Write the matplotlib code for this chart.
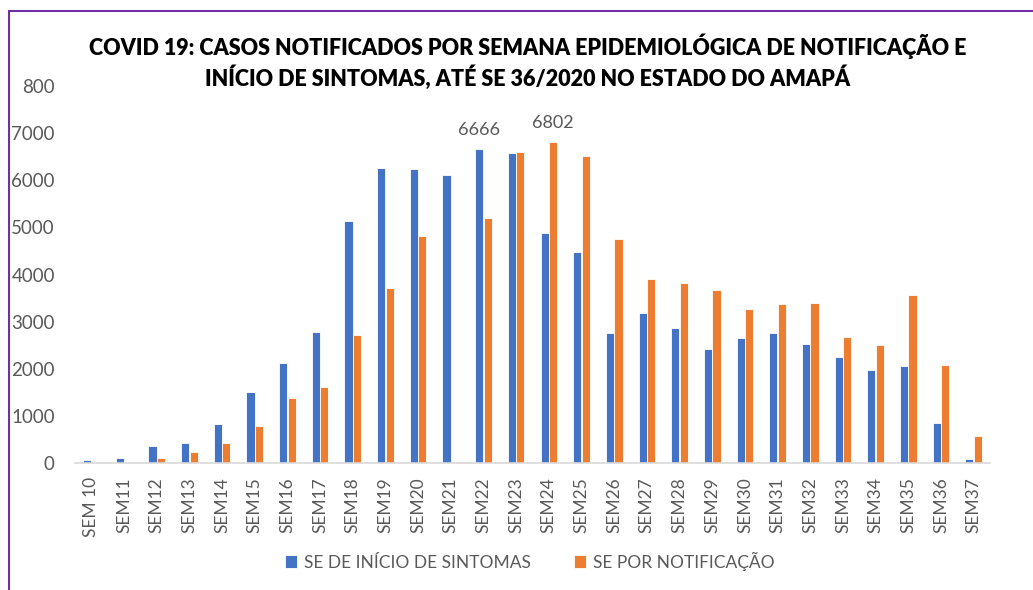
import matplotlib
matplotlib.use("Agg")
import matplotlib.pyplot as plt
import numpy as np
from matplotlib.patches import Rectangle

plt.rcParams['font.family'] = ['Lato', 'DejaVu Sans']

categories = ["SEM 10", "SEM11", "SEM12", "SEM13", "SEM14", "SEM15", "SEM16", "SEM17",
              "SEM18", "SEM19", "SEM20", "SEM21", "SEM22", "SEM23", "SEM24", "SEM25",
              "SEM26", "SEM27", "SEM28", "SEM29", "SEM30", "SEM31", "SEM32", "SEM33",
              "SEM34", "SEM35", "SEM36", "SEM37"]
inicio_sintomas = [70, 113, 361, 432, 820, 1501, 2122, 2781,
                   5134, 6258, 6243, 6109, 6666, 6576, 4879, 4469,
                   2751, 3175, 2870, 2418, 2652, 2765, 2531, 2255,
                   1966, 2051, 842, 85]
notificacao = [5, 10, 106, 240, 424, 785, 1372, 1619,
               2708, 3712, 4815, 0, 5204, 6597, 6802, 6506,
               4752, 3897, 3811, 3670, 3267, 3373, 3394, 2680,
               2496, 3557, 2079, 566]
y_ticks = [0, 1000, 2000, 3000, 4000, 5000, 6000, 7000, 8000]
y_tick_labels = ["0", "1000", "2000", "3000", "4000", "5000", "6000", "7000", "800"]
series_names = ["SE DE INÍCIO DE SINTOMAS", "SE POR NOTIFICAÇÃO"]
title = "COVID 19: CASOS NOTIFICADOS POR SEMANA EPIDEMIOLÓGICA DE NOTIFICAÇÃO E\nINÍCIO DE SINTOMAS, ATÉ SE 36/2020 NO ESTADO DO AMAPÁ"

BLUE = "#4472C4"
ORANGE = "#ED7D31"
GRAY = "#595959"

fig = plt.figure(figsize=(10.33, 5.9), dpi=100)
ax = fig.add_axes([75/1033, 1-463/590, (990-75)/1033, (463-86)/590])

x = np.arange(len(categories))
w = 0.25
b1 = ax.bar(x - w/2 - 0.005, inicio_sintomas, w, color=BLUE, edgecolor="white", linewidth=0.6, label=series_names[0])
b2 = ax.bar(x + w/2 + 0.005, notificacao, w, color=ORANGE, edgecolor="white", linewidth=0.6, label=series_names[1])

ax.set_xlim(-0.5, len(categories) - 0.5)
ax.set_ylim(0, 8000)
ax.set_yticks(y_ticks)
ax.set_yticklabels(y_tick_labels)
ax.set_xticks(x)
ax.set_xticklabels(categories, rotation=90)
ax.tick_params(axis='both', length=0, colors=GRAY, labelsize=12.5)
ax.tick_params(axis='y', pad=14.5, labelsize=13.5)
ax.tick_params(axis='x', pad=10)
for s in ["top", "right", "left"]:
    ax.spines[s].set_visible(False)
ax.spines["bottom"].set_color("#D9D9D9")
ax.spines["bottom"].set_linewidth(1.2)

# data labels
i22 = categories.index("SEM22")
i24 = categories.index("SEM24")
ax.annotate(str(inicio_sintomas[i22]), (x[i22] - w/2, inicio_sintomas[i22]), xytext=(0, 8),
            textcoords="offset points", ha="center", va="bottom", color=GRAY, fontsize=13)
ax.annotate(str(notificacao[i24]), (x[i24] + w/2, notificacao[i24]), xytext=(0, 8),
            textcoords="offset points", ha="center", va="bottom", color=GRAY, fontsize=13)

fig.text(528/1033, 1-62/590, title, ha="center", va="center", fontsize=15.5, fontweight="heavy",
         color="black", linespacing=1.3)

leg = fig.legend(handles=[b1, b2], loc="center", bbox_to_anchor=(530/1033, 1-561/590), ncol=2,
                 frameon=False, fontsize=12.5, handlelength=0.7, handleheight=0.7,
                 handletextpad=0.4, columnspacing=2.5)
for t in leg.get_texts():
    t.set_color(GRAY)

fig.add_artist(Rectangle((9/1033, -0.1), 1.2, 1 - 11/590 + 0.1, transform=fig.transFigure,
                         fill=False, edgecolor="#7030A0", linewidth=1.5))

fig.savefig("out.png", dpi=100)
